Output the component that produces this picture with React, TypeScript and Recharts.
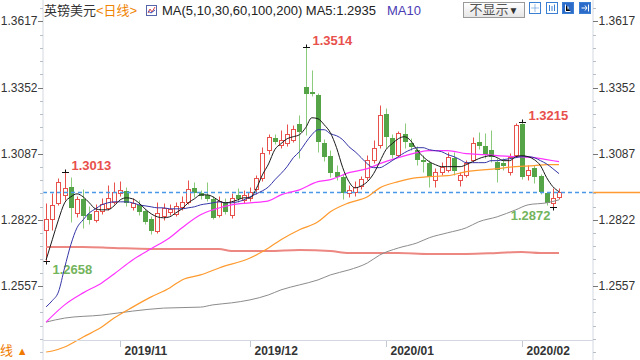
import { ComposedChart, Bar, Line, XAxis, YAxis, ReferenceLine } from "recharts";

// GBP/USD daily candles
const OPEN = [1.2782, 1.2826, 1.289, 1.2922, 1.2954, 1.285, 1.2906, 1.2846, 1.2822, 1.2858,
  1.287, 1.2894, 1.293, 1.2938, 1.2874, 1.2882, 1.2858, 1.2826, 1.2778, 1.2838,
  1.2854, 1.2846, 1.2874, 1.2894, 1.295, 1.293, 1.2922, 1.2906, 1.2842, 1.289,
  1.2842, 1.2922, 1.2902, 1.291, 1.2946, 1.2991, 1.3103, 1.3151, 1.3123, 1.3131,
  1.3143, 1.3207, 1.3356, 1.3336, 1.3324, 1.3131, 1.3079, 1.3015, 1.2995, 1.293,
  1.2934, 1.2959, 1.2995, 1.3063, 1.3123, 1.3248, 1.3151, 1.3083, 1.3167, 1.3131,
  1.3103, 1.3063, 1.3051, 1.2983, 1.3015, 1.3023, 1.3071, 1.2983, 1.3003, 1.3063,
  1.3135, 1.3119, 1.3103, 1.3055, 1.3051, 1.3015, 1.3083, 1.3207, 1.3003, 1.3031,
  1.2999, 1.293, 1.289, 1.2914];
const HIGH = [1.289, 1.293, 1.299, 1.3013, 1.2994, 1.2918, 1.2946, 1.2878, 1.2886, 1.291,
  1.2962, 1.2974, 1.2978, 1.2954, 1.291, 1.2902, 1.2866, 1.2838, 1.2894, 1.289,
  1.2886, 1.2894, 1.2918, 1.2982, 1.2974, 1.2942, 1.2974, 1.2918, 1.2918, 1.291,
  1.293, 1.295, 1.2942, 1.2954, 1.3003, 1.3115, 1.3167, 1.3167, 1.3183, 1.3207,
  1.3203, 1.3243, 1.3514, 1.3424, 1.3332, 1.3147, 1.3103, 1.3043, 1.3007, 1.2963,
  1.2979, 1.2999, 1.3083, 1.3143, 1.3284, 1.3272, 1.3167, 1.3179, 1.3211, 1.3151,
  1.3119, 1.3083, 1.3063, 1.3031, 1.3055, 1.3095, 1.3095, 1.3015, 1.3063, 1.3155,
  1.3175, 1.3171, 1.3183, 1.3071, 1.3071, 1.3091, 1.3211, 1.3215, 1.3043, 1.3043,
  1.3007, 1.2934, 1.295, 1.295];
const LOW = [1.2658, 1.2782, 1.2882, 1.2902, 1.2814, 1.2834, 1.279, 1.2806, 1.2814, 1.2846,
  1.2862, 1.2886, 1.2918, 1.2878, 1.2862, 1.2842, 1.2806, 1.2766, 1.277, 1.2822,
  1.2842, 1.2838, 1.2862, 1.2886, 1.2914, 1.2906, 1.2898, 1.2826, 1.2834, 1.2846,
  1.283, 1.2894, 1.289, 1.2898, 1.2926, 1.2979, 1.3087, 1.3127, 1.3111, 1.3119,
  1.3135, 1.3071, 1.3163, 1.332, 1.3095, 1.3059, 1.2995, 1.2983, 1.2906, 1.2914,
  1.2918, 1.2946, 1.2983, 1.3051, 1.3111, 1.3111, 1.3071, 1.3075, 1.3111, 1.3103,
  1.3043, 1.3015, 1.2954, 1.2954, 1.3003, 1.3015, 1.3003, 1.2959, 1.2995, 1.3055,
  1.3107, 1.3071, 1.3055, 1.2975, 1.3023, 1.3003, 1.3075, 1.2987, 1.2983, 1.2971,
  1.2926, 1.2882, 1.2872, 1.2906];
const CLOSE = [1.2826, 1.2882, 1.2974, 1.295, 1.287, 1.2906, 1.2838, 1.2822, 1.2858, 1.2886,
  1.291, 1.2934, 1.2942, 1.289, 1.289, 1.2854, 1.2814, 1.2778, 1.285, 1.287,
  1.2866, 1.2878, 1.2894, 1.2946, 1.293, 1.2918, 1.2906, 1.283, 1.2898, 1.2854,
  1.291, 1.2906, 1.2922, 1.2934, 1.2991, 1.3091, 1.3155, 1.3135, 1.3143, 1.3167,
  1.3187, 1.3175, 1.3328, 1.3328, 1.3135, 1.3075, 1.3011, 1.2995, 1.293, 1.2942,
  1.2954, 1.2987, 1.3063, 1.3111, 1.3244, 1.3155, 1.3083, 1.3171, 1.3135, 1.3115,
  1.3063, 1.3055, 1.2995, 1.3015, 1.3035, 1.3075, 1.3019, 1.3003, 1.3051, 1.3131,
  1.3119, 1.3083, 1.3075, 1.3023, 1.3039, 1.3075, 1.3203, 1.2995, 1.3023, 1.2995,
  1.2934, 1.289, 1.291, 1.2935];

const MA5 = [1.2661, 1.2742, 1.2822, 1.289, 1.2914, 1.2926, 1.2914, 1.289, 1.2866, 1.2862,
  1.2862, 1.2878, 1.2902, 1.291, 1.2906, 1.289, 1.2866, 1.2846, 1.2834, 1.283,
  1.2834, 1.285, 1.2866, 1.289, 1.2906, 1.2922, 1.2922, 1.2914, 1.2898, 1.289,
  1.2894, 1.2902, 1.291, 1.291, 1.2946, 1.3002, 1.3046, 1.3103, 1.3127, 1.3147,
  1.3155, 1.3163, 1.3191, 1.3231, 1.3227, 1.3203, 1.3171, 1.3111, 1.3031, 1.2975,
  1.295, 1.2958, 1.2975, 1.3007, 1.3055, 1.3103, 1.3127, 1.3147, 1.3155, 1.3139,
  1.3103, 1.3075, 1.3055, 1.3043, 1.3035, 1.3035, 1.3035, 1.3035, 1.3043, 1.3055,
  1.3067, 1.3075, 1.3079, 1.3071, 1.3059, 1.3059, 1.3075, 1.3079, 1.3075, 1.3063,
  1.3039, 1.2991, 1.2955, 1.2935];
const MA10 = [1.2473, 1.2498, 1.2533, 1.263, 1.2722, 1.279, 1.2822, 1.285, 1.2866, 1.2882,
  1.289, 1.2894, 1.2894, 1.2894, 1.289, 1.2882, 1.2878, 1.2874, 1.287, 1.287,
  1.2866, 1.2866, 1.2866, 1.287, 1.2874, 1.2882, 1.2886, 1.289, 1.2894, 1.289,
  1.289, 1.2894, 1.2902, 1.2914, 1.2926, 1.2938, 1.2954, 1.2982, 1.3007, 1.3035,
  1.3071, 1.3095, 1.3131, 1.3163, 1.3183, 1.3183, 1.3167, 1.3159, 1.3143, 1.3115,
  1.3095, 1.3071, 1.3046, 1.3031, 1.3031, 1.3043, 1.3059, 1.3075, 1.3091, 1.3103,
  1.3111, 1.3111, 1.3103, 1.3099, 1.3095, 1.3083, 1.3075, 1.3063, 1.3051, 1.3051,
  1.3051, 1.3051, 1.3059, 1.3059, 1.3063, 1.3067, 1.3071, 1.3075, 1.3075, 1.3071,
  1.3059, 1.3046, 1.3027, 1.3007];

// slower averages, sampled at [candle index, value]
const MA30: [number, number][] = [[0, 1.2412], [3, 1.2481], [6, 1.2529], [9, 1.2569], [11, 1.2605],
  [14, 1.2661], [17, 1.2706], [20, 1.275], [22, 1.279], [25, 1.2842], [27, 1.2862], [30, 1.2882],
  [33, 1.289], [36, 1.2898], [38, 1.2922], [41, 1.2942], [44, 1.2975], [46, 1.2983], [49, 1.3011],
  [52, 1.3027], [54, 1.3047], [57, 1.3071], [60, 1.3091], [62, 1.3099], [65, 1.3099], [68, 1.3087],
  [71, 1.3083], [73, 1.3079], [76, 1.3075], [79, 1.3071], [81, 1.3063], [83, 1.3055]];
const MA60: [number, number][] = [[0, 1.2292], [1, 1.2296], [3, 1.2312], [6, 1.2352], [9, 1.2392],
  [11, 1.2428], [14, 1.2472], [17, 1.2513], [20, 1.2549], [22, 1.2581], [25, 1.2601], [28, 1.2629],
  [33, 1.2669], [36, 1.2709], [38, 1.2742], [41, 1.2782], [44, 1.2814], [46, 1.2854], [49, 1.289],
  [52, 1.2914], [54, 1.295], [57, 1.2975], [59, 1.2987], [62, 1.2995], [65, 1.2999], [68, 1.3015],
  [73, 1.3027], [76, 1.3035], [79, 1.3039], [81, 1.3043], [83, 1.3043]];
const MA100: [number, number][] = [[0, 1.2412], [3, 1.2428], [9, 1.244], [14, 1.2456], [19, 1.2468],
  [25, 1.2472], [27, 1.2481], [30, 1.2489], [33, 1.2501], [36, 1.2521], [38, 1.2541], [41, 1.2561],
  [44, 1.2581], [46, 1.2601], [49, 1.2621], [52, 1.2649], [54, 1.2681], [57, 1.2709], [60, 1.2729],
  [62, 1.275], [65, 1.277], [68, 1.279], [70, 1.2814], [73, 1.2834], [76, 1.2862], [78, 1.2882],
  [81, 1.289], [83, 1.2902]];
const MA200: [number, number][] = [[0, 1.2713], [6, 1.2713], [11, 1.2709], [17, 1.2705], [28, 1.2705],
  [30, 1.2697], [36, 1.2697], [41, 1.2701], [46, 1.2697], [49, 1.2689], [57, 1.2689], [62, 1.2685],
  [68, 1.2685], [73, 1.2689], [77, 1.2693], [80, 1.2689], [83, 1.2689]];

const MONTHS = [
  { index: 12, label: "2019/11" },
  { index: 33, label: "2019/12" },
  { index: 55, label: "2020/01" },
  { index: 77, label: "2020/02" },
];

const EXTREMES = [
  { index: 3, kind: "high", side: "right" },
  { index: 42, kind: "high", side: "right" },
  { index: 77, kind: "high", side: "right" },
  { index: 0, kind: "low", side: "right" },
  { index: 82, kind: "low", side: "left" },
];

const MAJOR_TICKS = [1.2557, 1.2822, 1.3087, 1.3352, 1.3617];
const Y_DOMAIN: [number, number] = [1.226, 1.3703];
const EMPTY_SLOTS = 5;

const FONT = "'Liberation Sans', Arial, 'Noto Sans CJK SC', sans-serif";
const RED = "#e8504c";
const GREEN = "#55a448";
const GREEN_WICK = "#8ccb7c";
const AXIS = "#d3d8e0";

const pick = (pts: [number, number][], i: number) => {
  const hit = pts.find(p => p[0] === i);
  return hit ? hit[1] : null;
};

const rows = Array.from({ length: OPEN.length + EMPTY_SLOTS }, (_, i) => {
  if (i >= OPEN.length) return { i };
  return {
    i,
    open: OPEN[i],
    high: HIGH[i],
    low: LOW[i],
    close: CLOSE[i],
    range: [LOW[i], HIGH[i]],
    ma5: MA5[i],
    ma10: MA10[i],
    ma30: pick(MA30, i),
    ma60: pick(MA60, i),
    ma100: pick(MA100, i),
    ma200: pick(MA200, i),
    mark: EXTREMES.find(e => e.index === i),
  };
});

const step = (MAJOR_TICKS[1] - MAJOR_TICKS[0]) / 5;
const allTicks: number[] = [];
for (let k = -10; k <= 30; k++) {
  const v = Math.round((MAJOR_TICKS[0] + k * step) * 10000) / 10000;
  if (v > Y_DOMAIN[0] && v < Y_DOMAIN[1]) allTicks.push(v);
}

const snap = (v: number) => Math.round(v) + 0.5;

function Candle(props: any) {
  const { x, y, width, height, payload } = props;
  if (!payload || payload.high == null) return null;
  const { open, high, low, close, mark } = payload;
  const top = Math.min(y, y + height);
  const span = Math.abs(height);
  const py = (v: number) => top + ((high - v) / (high - low)) * span;
  const cx = Math.round(x + width / 2) + 0.5;
  const up = close >= open;
  let body;
  if (up) {
    const bt = snap(py(close));
    const bb = Math.max(bt + 1, snap(py(open)));
    body = (
      <g>
        <line x1={cx} x2={cx} y1={snap(py(high))} y2={bt} stroke={RED} />
        <line x1={cx} x2={cx} y1={bb} y2={snap(py(low))} stroke={RED} />
        <rect x={cx - 2} y={bt} width={4} height={bb - bt} fill="#fff" stroke={RED} />
      </g>
    );
  } else {
    const bt = Math.round(py(open));
    const bb = Math.max(bt + 1, Math.round(py(close)));
    body = (
      <g>
        <line x1={cx} x2={cx} y1={snap(py(high))} y2={snap(py(low))} stroke={GREEN_WICK} />
        <rect x={cx - 2.5} y={bt} width={5} height={bb - bt} fill={GREEN} />
      </g>
    );
  }
  let marker = null;
  if (mark) {
    const isHigh = mark.kind === "high";
    const v = isHigh ? high : low;
    const my = snap(py(v));
    const tx = mark.side === "right" ? cx + 6 : cx - 3;
    marker = (
      <g>
        <line x1={cx - 3.5} x2={cx + 3.5} y1={my} y2={my} stroke="#111" />
        <line x1={cx} x2={cx} y1={isHigh ? my - 3 : my} y2={isHigh ? my : my + 3} stroke="#111" />
        <text
          x={tx}
          y={isHigh ? my - 3 : my + 12.5}
          textAnchor={mark.side === "right" ? "start" : "end"}
          fontSize={13}
          fontWeight="bold"
          fontFamily={FONT}
          fill={isHigh ? RED : "#74b45c"}
        >
          {v.toFixed(4)}
        </text>
      </g>
    );
  }
  return (
    <g>
      {body}
      {marker}
    </g>
  );
}

function PriceTick(props: any) {
  const { x, y, payload, side } = props;
  const major = MAJOR_TICKS.some(t => Math.abs(t - payload.value) < 1e-6);
  const yy = snap(y);
  const dir = side === "left" ? -1 : 1;
  if (!major) {
    return <line x1={x} x2={x + dir * 3} y1={yy} y2={yy} stroke="#b8bec8" />;
  }
  return (
    <g>
      <line x1={x} x2={x + dir * 5} y1={yy} y2={yy} stroke="#777" />
      <text
        x={x + dir * 5.5}
        y={y + 4}
        textAnchor={side === "left" ? "end" : "start"}
        fontSize={12}
        fontFamily={FONT}
        fill="#333"
      >
        {payload.value.toFixed(4)}
      </text>
    </g>
  );
}

function MonthMark(props: any) {
  const { x1, y1, y2, label } = props;
  const bottom = Math.max(y1, y2);
  const x = snap(x1);
  return (
    <g>
      <line x1={x} x2={x} y1={bottom - 20} y2={bottom - 13} stroke="#c3c9d3" />
      <text x={x + 4} y={bottom - 5} fontSize={12} fontWeight="bold" fontFamily={FONT} fill="#333">
        {label}
      </text>
    </g>
  );
}

function PriceLine(props: any) {
  const { x1, x2, y1 } = props;
  const yy = snap(y1);
  const right = Math.max(x1, x2);
  return (
    <g>
      <line x1={Math.min(x1, x2)} x2={right} y1={yy} y2={yy} stroke="#4a98e8" strokeWidth={1.5} strokeDasharray="4 3" />
      <line x1={right} x2={right + 47} y1={yy} y2={yy} stroke="#ff9a30" strokeWidth={1.5} />
    </g>
  );
}

function ToolIcon({ left, filled, children }: any) {
  return (
    <svg
      width={12}
      height={12}
      style={{ position: "absolute", left, top: 2 }}
    >
      <rect x={0.5} y={0.5} width={11} height={11} fill={filled ? "#2c6cc8" : "#fff"} stroke="#3b7fd4" />
      {children}
    </svg>
  );
}

export default function App() {
  const last = CLOSE[CLOSE.length - 1];
  const lineProps = { yAxisId: "left", dot: false, isAnimationActive: false, connectNulls: true, type: "monotone" as const, activeDot: false };
  return (
    <div
      style={{
        position: "fixed",
        left: 0,
        top: 0,
        width: 640,
        height: 360,
        background: "#fff",
        overflow: "hidden",
        fontFamily: FONT,
      }}
    >
      <ComposedChart width={640} height={360} data={rows} margin={{ top: 0, right: 0, bottom: 0, left: 0 }}>
        <XAxis dataKey="i" type="category" hide />
        <YAxis
          yAxisId="left"
          orientation="left"
          type="number"
          width={43}
          domain={Y_DOMAIN}
          allowDataOverflow
          ticks={allTicks}
          interval={0}
          tickSize={0}
          tickMargin={0}
          tickLine={false}
          axisLine={{ stroke: AXIS }}
          tick={<PriceTick side="left" />}
        />
        <YAxis
          yAxisId="right"
          orientation="right"
          type="number"
          width={47}
          domain={Y_DOMAIN}
          allowDataOverflow
          ticks={allTicks}
          interval={0}
          tickSize={0}
          tickMargin={0}
          tickLine={false}
          axisLine={{ stroke: AXIS }}
          tick={<PriceTick side="right" />}
        />
        {MONTHS.map(m => (
          <ReferenceLine
            key={m.label}
            yAxisId="left"
            x={m.index}
            shape={(p: any) => <MonthMark {...p} label={m.label} />}
          />
        ))}
        <Bar yAxisId="left" dataKey="range" shape={<Candle />} isAnimationActive={false} />
        <ReferenceLine yAxisId="left" y={last} shape={(p: any) => <PriceLine {...p} />} />
        <Line {...lineProps} dataKey="ma200" stroke="#ec8782" strokeWidth={2} />
        <Line {...lineProps} dataKey="ma100" stroke="#8c8c8c" strokeWidth={1} />
        <Line {...lineProps} dataKey="ma60" stroke="#ff9a2e" strokeWidth={1.2} />
        <Line {...lineProps} dataKey="ma30" stroke="#ff33ff" strokeWidth={1.2} />
        <Line {...lineProps} dataKey="ma10" stroke="#3535a8" strokeWidth={1} />
        <Line {...lineProps} dataKey="ma5" stroke="#1a1a1a" strokeWidth={1} />
      </ComposedChart>

      <div style={{ position: "absolute", left: 43, top: 340, width: 550, height: 1, background: AXIS }} />

      <div style={{ position: "absolute", top: 3, left: 0, fontSize: 13, lineHeight: "16px", whiteSpace: "nowrap" }}>
        <span style={{ position: "absolute", left: 44, color: "#333" }}>英镑美元</span>
        <span style={{ position: "absolute", left: 96, color: "#f08300" }}>&lt;日线&gt;</span>
        <svg width={11} height={11} style={{ position: "absolute", left: 146, top: 2 }}>
          <rect x={0.5} y={0.5} width={10} height={10} fill="#fff" stroke="#5566aa" />
          <polyline points="2,8 4,4 6,7 9,2" fill="none" stroke="#e04040" />
          <polyline points="2,6 5,8 9,5" fill="none" stroke="#3050c0" />
        </svg>
        <span style={{ position: "absolute", left: 162, color: "#222" }}>
          {`MA(5,10,30,60,100,200) MA5:${MA5[MA5.length - 1].toFixed(4)}`}
        </span>
        <span style={{ position: "absolute", left: 387, color: "#4a3cb4" }}>MA10</span>
      </div>

      <div
        style={{
          position: "absolute",
          left: 463,
          top: 2,
          width: 60,
          height: 14,
          border: "1px solid #9a9a9a",
          background: "linear-gradient(#ffffff, #e6e6e6)",
          fontSize: 13,
          lineHeight: "14px",
          color: "#555",
          textAlign: "center",
          whiteSpace: "nowrap",
        }}
      >
        不显示<span style={{ fontSize: 10, color: "#333" }}>▼</span>
      </div>

      <ToolIcon left={529}>
        <path d="M6 2.5v7M2.5 6h7" stroke="#3b7fd4" strokeDasharray="1 1" />
      </ToolIcon>
      <ToolIcon left={546}>
        <path d="M3.5 3v6M6 4v5M8.5 2.5v6.5" stroke="#3b7fd4" />
      </ToolIcon>
      <ToolIcon left={562} filled>
        <path d="M3.5 2.5v7h5M6 4.5v3" stroke="#fff" />
      </ToolIcon>
      <ToolIcon left={579} filled>
        <path d="M2.5 6h5M6 3.5l2 2.5-2 2.5M9.5 2.5v7" stroke="#fff" fill="none" />
      </ToolIcon>

      <div style={{ position: "absolute", left: 0, top: 343, fontSize: 13, lineHeight: "16px", color: "#f07a00" }}>
        线 <span style={{ fontSize: 11 }}>▲</span>
      </div>
    </div>
  );
}
